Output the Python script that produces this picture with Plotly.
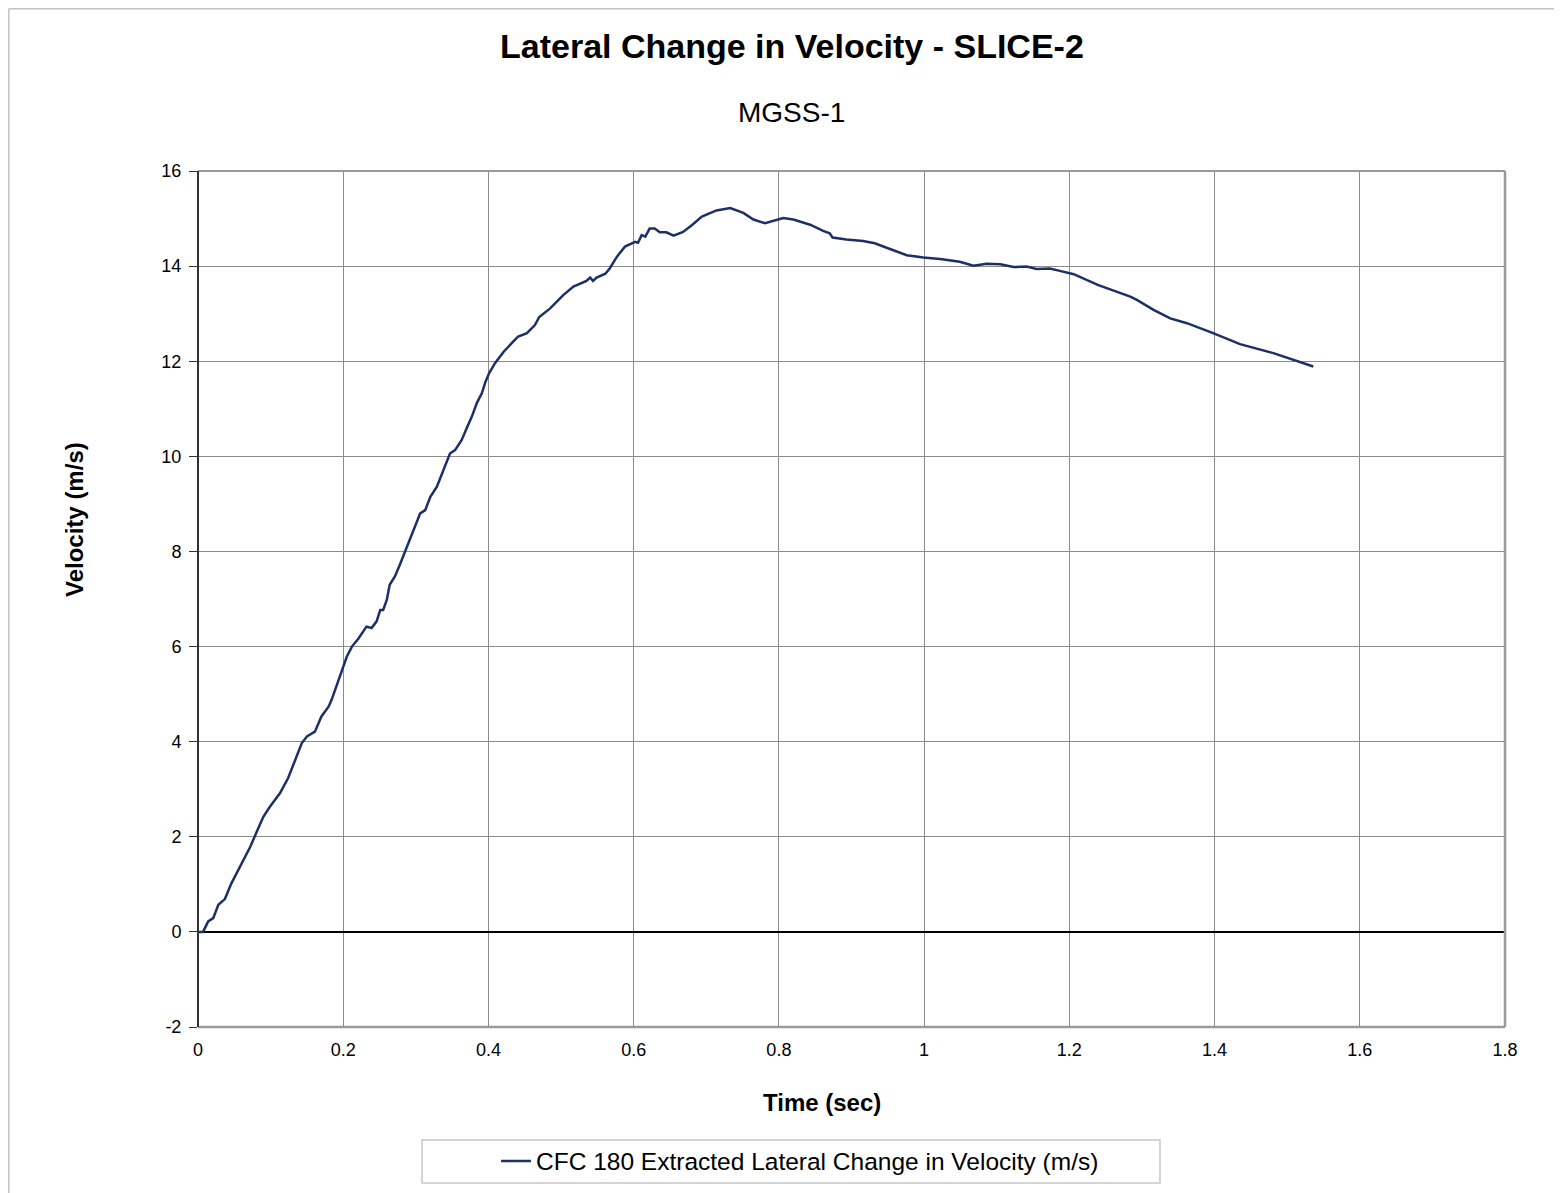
import plotly.graph_objects as go

# ---- data ----
time_s = [0.000, 0.007, 0.014, 0.021, 0.028, 0.037, 0.046, 0.060, 0.072, 0.081,
          0.090, 0.099, 0.113, 0.124, 0.134, 0.143, 0.150, 0.161, 0.170, 0.180,
          0.184, 0.191, 0.200, 0.205, 0.212, 0.221, 0.232, 0.239, 0.246, 0.251,
          0.255, 0.260, 0.264, 0.271, 0.278, 0.285, 0.292, 0.299, 0.306, 0.313,
          0.320, 0.329, 0.338, 0.347, 0.354, 0.363, 0.370, 0.377, 0.384, 0.391,
          0.396, 0.401, 0.409, 0.421, 0.434, 0.441, 0.453, 0.464, 0.470, 0.485,
          0.503, 0.517, 0.535, 0.540, 0.544, 0.549, 0.561, 0.567, 0.577, 0.588,
          0.602, 0.606, 0.611, 0.616, 0.622, 0.629, 0.636, 0.645, 0.655, 0.668,
          0.680, 0.694, 0.714, 0.733, 0.751, 0.765, 0.781, 0.799, 0.806, 0.820,
          0.843, 0.861, 0.870, 0.874, 0.893, 0.916, 0.932, 0.953, 0.976, 0.999,
          1.022, 1.049, 1.068, 1.086, 1.105, 1.123, 1.141, 1.155, 1.173, 1.187,
          1.206, 1.240, 1.256, 1.270, 1.284, 1.293, 1.316, 1.339, 1.362, 1.398,
          1.435, 1.481, 1.508, 1.536]
velocity = [0.00, 0.00, 0.22, 0.29, 0.57, 0.69, 1.02, 1.44, 1.79, 2.11,
            2.42, 2.63, 2.92, 3.23, 3.62, 3.97, 4.11, 4.21, 4.53, 4.74,
            4.88, 5.19, 5.57, 5.79, 6.00, 6.17, 6.42, 6.39, 6.53, 6.77,
            6.77, 6.98, 7.30, 7.47, 7.72, 8.00, 8.24, 8.52, 8.80, 8.87,
            9.15, 9.36, 9.71, 10.06, 10.13, 10.34, 10.59, 10.83, 11.12, 11.33,
            11.57, 11.75, 11.96, 12.20, 12.41, 12.52, 12.59, 12.76, 12.93, 13.11,
            13.39, 13.57, 13.69, 13.76, 13.69, 13.76, 13.84, 13.95, 14.20, 14.41,
            14.51, 14.49, 14.65, 14.62, 14.79, 14.79, 14.71, 14.71, 14.64, 14.72,
            14.86, 15.04, 15.17, 15.22, 15.12, 14.98, 14.90, 14.97, 15.01, 14.98,
            14.87, 14.74, 14.69, 14.60, 14.56, 14.53, 14.48, 14.36, 14.23, 14.18,
            14.15, 14.09, 14.01, 14.05, 14.04, 13.98, 13.99, 13.94, 13.95, 13.90,
            13.83, 13.60, 13.51, 13.44, 13.36, 13.29, 13.08, 12.90, 12.80, 12.59,
            12.36, 12.17, 12.03, 11.89]

x_ticks = [0, 0.2, 0.4, 0.6, 0.8, 1.0, 1.2, 1.4, 1.6, 1.8]
x_tick_labels = ["0", "0.2", "0.4", "0.6", "0.8", "1", "1.2", "1.4", "1.6", "1.8"]
y_ticks = [-2, 0, 2, 4, 6, 8, 10, 12, 14, 16]
y_tick_labels = ["-2", "0", "2", "4", "6", "8", "10", "12", "14", "16"]

title_text = "Lateral Change in Velocity - SLICE-2"
subtitle_text = "MGSS-1"
x_title = "Time (sec)"
y_title = "Velocity (m/s)"
series_name = "CFC 180 Extracted Lateral Change in Velocity (m/s)"

FONT = "Liberation Sans, Arial, sans-serif"
# page body has an 8px margin
OFF = 8
W, H = 1562 - OFF, 1193 - OFF + 4
PX0, PX1, PY0, PY1 = 198, 1505, 171, 1027   # plot area in window pixels
L, T = PX0 - OFF, PY0 - OFF
R, B = W - (PX1 - OFF), H - (PY1 - OFF)
PW, PH = PX1 - PX0, PY1 - PY0


def px(xp):
    return (xp - PX0) / PW


def py(yp):
    return (PY1 - yp) / PH


fig = go.Figure()
fig.add_trace(go.Scatter(
    x=time_s, y=velocity, mode="lines", name=series_name,
    line=dict(color="#1d3065", width=2.5),
))

fig.update_layout(
    width=W, height=H,
    margin=dict(l=L, r=R, t=T, b=B, pad=0),
    paper_bgcolor="white", plot_bgcolor="white",
    font=dict(family=FONT, color="#000000"),
    showlegend=True,
    legend=dict(
        x=px(800), y=py(1161), xanchor="center", yanchor="middle",
        orientation="h", bgcolor="rgba(0,0,0,0)", borderwidth=0,
        font=dict(size=24.5, family=FONT, color="#000"),
    ),
    xaxis=dict(
        range=[0, 1.8], tickvals=x_ticks, ticktext=x_tick_labels,
        showgrid=True, gridcolor="#8c8c8c", gridwidth=1,
        zeroline=False, showline=False, ticks="", ticklabelstandoff=10,
        tickfont=dict(size=18, family=FONT, color="#000"),
    ),
    yaxis=dict(
        range=[-2, 16], tickvals=y_ticks, ticktext=y_tick_labels,
        showgrid=True, gridcolor="#8c8c8c", gridwidth=1,
        zeroline=True, zerolinecolor="#000000", zerolinewidth=1.5,
        showline=False, ticks="outside", ticklen=8, tickcolor="#333",
        tickwidth=1, ticklabelstandoff=4,
        tickfont=dict(size=18, family=FONT, color="#000"),
    ),
)

shapes = [
    # plot frame
    dict(type="line", xref="paper", yref="paper", x0=0, x1=1, y0=1, y1=1,
         line=dict(color="#9a9a9a", width=2)),
    dict(type="line", xref="paper", yref="paper", x0=1, x1=1, y0=0, y1=1,
         line=dict(color="#9a9a9a", width=2.5)),
    dict(type="line", xref="paper", yref="paper", x0=0, x1=1, y0=0, y1=0,
         line=dict(color="#9a9a9a", width=2.5)),
    dict(type="line", xref="paper", yref="paper", x0=0, x1=0, y0=0, y1=1,
         line=dict(color="#333333", width=2)),
    # legend box
    dict(type="rect", xref="paper", yref="paper",
         x0=px(422), x1=px(1160), y0=py(1183), y1=py(1140),
         line=dict(color="#c8c8c8", width=1.5), fillcolor="rgba(0,0,0,0)"),
    # outer chart border (left and top visible)
    dict(type="line", xref="paper", yref="paper",
         x0=px(8.8), x1=px(8.8), y0=py(8.8), y1=py(1200),
         line=dict(color="#c4c4c4", width=1.5)),
    dict(type="line", xref="paper", yref="paper",
         x0=px(8.8), x1=px(1570), y0=py(8.8), y1=py(8.8),
         line=dict(color="#c4c4c4", width=1.5)),
]
fig.update_layout(shapes=shapes)

annotations = [
    dict(text="<b>%s</b>" % title_text, x=px(792), y=py(46), xref="paper", yref="paper",
         xanchor="center", yanchor="middle", showarrow=False,
         font=dict(size=34, family=FONT, color="#000")),
    dict(text=subtitle_text, x=px(791), y=py(112), xref="paper", yref="paper",
         xanchor="center", yanchor="middle", showarrow=False,
         font=dict(size=28, family=FONT, color="#000")),
    dict(text="<b>%s</b>" % x_title, x=px(822), y=py(1102), xref="paper", yref="paper",
         xanchor="center", yanchor="middle", showarrow=False,
         font=dict(size=24, family=FONT, color="#000")),
    dict(text="<b>%s</b>" % y_title, x=px(75), y=py(520), xref="paper", yref="paper",
         xanchor="center", yanchor="middle", showarrow=False, textangle=-90,
         font=dict(size=24, family=FONT, color="#000")),
]
fig.update_layout(annotations=annotations)

fig.write_html("out.html")
